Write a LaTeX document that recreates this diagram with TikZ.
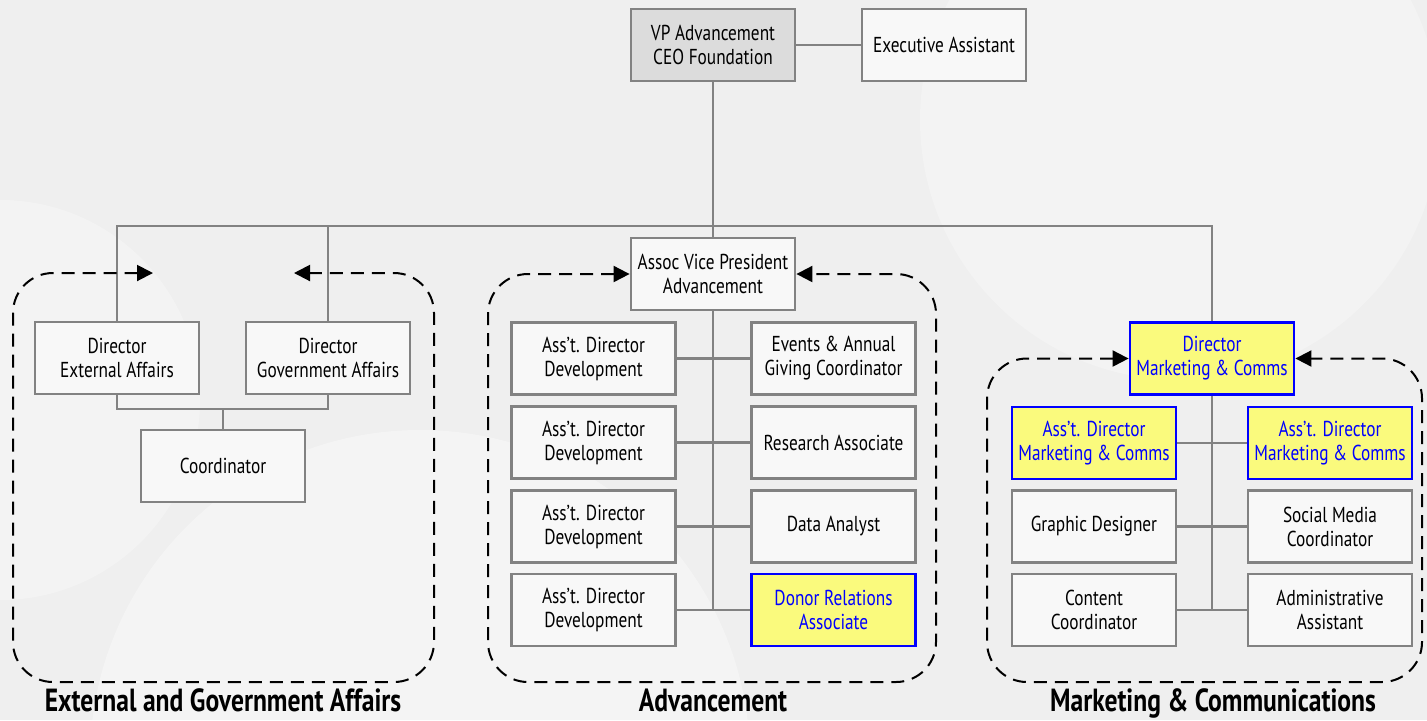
\documentclass[tikz,border=0pt]{standalone}
\usepackage{fontspec}
\setmainfont{PT Sans}[FakeStretch=0.8]
\usepackage{tikz}
\usetikzlibrary{arrows.meta}
\definecolor{bg}{HTML}{EFEFEF}
\definecolor{boxgray}{HTML}{828282}
\definecolor{boxfill}{HTML}{F8F8F8}
\definecolor{vpfill}{HTML}{DCDCDC}
\definecolor{hiyellow}{HTML}{FAFA7D}

\begin{document}
\begin{tikzpicture}[x=0.5pt,y=-0.5pt,
  box/.style={draw=boxgray,line width=1.4pt,fill=boxfill,minimum width=82pt,minimum height=36pt,
    align=center,inner sep=1pt,font=\fontsize{10.8}{12}\selectfont},
  hibox/.style={box,draw=blue,fill=hiyellow,text=blue},
  link/.style={draw=boxgray,line width=1.4pt},
  group/.style={dash pattern=on 6.5pt off 4pt,line width=1pt,rounded corners=20pt,
    {Triangle[length=8pt,width=8pt]}-{Triangle[length=8pt,width=8pt]}},
  title/.style={font=\fontsize{16}{18}\selectfont\bfseries,text height=11pt,text depth=3pt}]
  \useasboundingbox (0,0) rectangle (1427,720);
  \fill[bg] (0,0) rectangle (1427,720);
  % faint background shapes
  \fill[white,opacity=0.35] (420,760) circle (330);
  \fill[white,opacity=0.25] (1180,120) circle (260);
  \fill[white,opacity=0.3] (0,400) circle (200);

  % top
  \node[box,fill=vpfill] (vp) at (713,45) {VP Advancement\\CEO Foundation};
  \node[box] (exec) at (944,45) {Executive Assistant};
  \coordinate (bar) at (713,226);

  % external and government affairs
  \node[box] (dext) at (117,358) {Director\\External Affairs};
  \node[box] (dgov) at (328,358) {Director\\Government Affairs};
  \node[box] (coord) at (223,466) {Coordinator};
  \coordinate (jn) at (223,409);

  % advancement
  \node[box] (avp) at (713,274) {Assoc Vice President\\Advancement};
  \foreach \i/\y in {1/358.5,2/442.5,3/526.5,4/610}
    \node[box] (adev\i) at (593.5,\y) {Ass’t. Director\\Development};
  \node[box] (events) at (833.5,358.5) {Events \& Annual\\Giving Coordinator};
  \node[box] (research) at (833.5,442.5) {Research Associate};
  \node[box] (data) at (833.5,526.5) {Data Analyst};
  \node[hibox] (donor) at (833.5,610) {Donor Relations\\Associate};

  % marketing
  \node[hibox] (dmc) at (1212,358.5) {Director\\Marketing \& Comms};
  \node[hibox] (amc1) at (1094,443) {Ass’t. Director\\Marketing \& Comms};
  \node[hibox] (amc2) at (1330,443) {Ass’t. Director\\Marketing \& Comms};
  \node[box] (graphic) at (1094,526.5) {Graphic Designer};
  \node[box] (social) at (1330,526.5) {Social Media\\Coordinator};
  \node[box] (content) at (1094,610) {Content\\Coordinator};
  \node[box] (admin) at (1330,610) {Administrative\\Assistant};

  % connectors
  \draw[link] (vp) -- (exec);
  \draw[link] (vp.south) -- (avp.north);
  \draw[link] (dext.north) |- (bar) -| (dmc.north);
  \draw[link] (dgov.north) -- (dgov.north |- bar);
  \draw[link] (dext.south) |- (jn) -| (dgov.south);
  \draw[link] (jn) -- (coord.north);
  \draw[link] (avp.south) -- (avp.south |- adev4.east);
  \draw[link] (adev1) -- (events);
  \draw[link] (adev2) -- (research);
  \draw[link] (adev3) -- (data);
  \draw[link] (adev4) -- (donor);
  \draw[link] (dmc.south) -- (dmc.south |- content.east);
  \draw[link] (amc1) -- (amc2);
  \draw[link] (graphic) -- (social);
  \draw[link] (content) -- (admin);

  % groups
  \draw[group] (153,273) -- (13,273) -- (13,682) -- (434,682) -- (434,273) -- (294,273);
  \draw[group] (avp.west) -- (488,274) -- (488,682) -- (936,682) -- (936,274) -- (avp.east);
  \draw[group] (dmc.west) -- (987,358.5) -- (987,682) -- (1422,682) -- (1422,358.5) -- (dmc.east);
  \node[title] (tea) at (223,703) {External and Government Affairs};
  \node[title] (tadv) at (713,703) {Advancement};
  \node[title] (tmc) at (1213,703) {Marketing \& Communications};
\end{tikzpicture}
\end{document}
